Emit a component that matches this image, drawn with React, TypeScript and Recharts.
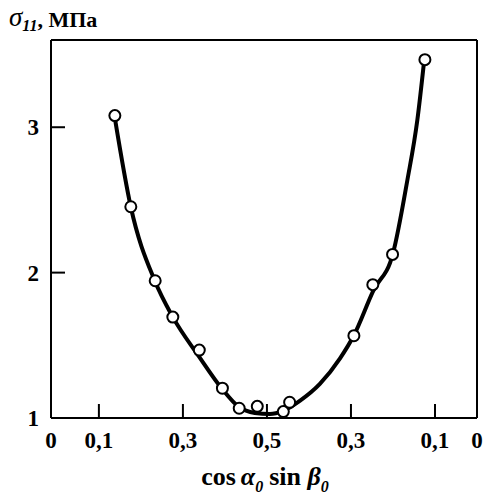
import { ComposedChart, Line, Scatter, XAxis, YAxis, ReferenceLine, Label } from "recharts";

// x is a folded scale: 0 -> 0,5 on the left half, 0,5 -> 0 on the right half
const xDomain: [number, number] = [-0.014, 1];
const xTicks = [-0.014, 0.1, 0.3, 0.5, 0.7, 0.9, 1];
const xTickLabels = ["0", "0,1", "0,3", "0,5", "0,3", "0,1", "0"];
const yDomain: [number, number] = [1, 3.6];
const yTicks = [1, 2, 3];

const measured = [
  { u: 0.138, s: 3.08 },
  { u: 0.176, s: 2.453 },
  { u: 0.234, s: 1.944 },
  { u: 0.276, s: 1.694 },
  { u: 0.339, s: 1.467 },
  { u: 0.394, s: 1.205 },
  { u: 0.434, s: 1.067 },
  { u: 0.477, s: 1.08 },
  { u: 0.539, s: 1.044 },
  { u: 0.554, s: 1.108 },
  { u: 0.707, s: 1.566 },
  { u: 0.752, s: 1.917 },
  { u: 0.799, s: 2.125 },
  { u: 0.876, s: 3.465 },
];

const fitted = [
  { u: 0.138, s: 3.063 },
  { u: 0.176, s: 2.451 },
  { u: 0.233, s: 1.944 },
  { u: 0.276, s: 1.694 },
  { u: 0.338, s: 1.424 },
  { u: 0.393, s: 1.201 },
  { u: 0.433, s: 1.076 },
  { u: 0.471, s: 1.035 },
  { u: 0.507, s: 1.028 },
  { u: 0.538, s: 1.049 },
  { u: 0.579, s: 1.12 },
  { u: 0.626, s: 1.235 },
  { u: 0.674, s: 1.41 },
  { u: 0.707, s: 1.569 },
  { u: 0.753, s: 1.875 },
  { u: 0.8, s: 2.132 },
  { u: 0.834, s: 2.632 },
  { u: 0.858, s: 3.049 },
  { u: 0.874, s: 3.451 },
];

const font = "'Liberation Serif', 'Times New Roman', serif";
const tickStyle = { fill: "#000", fontSize: 23, fontWeight: "bold", fontFamily: font };

const Ring = (p: any) => <circle cx={p.cx} cy={p.cy} r={5.5} fill="#fff" stroke="#000" strokeWidth={2} />;

const XTitle = () => (
  <text x={265} y={485} textAnchor="middle" fontFamily={font} fontWeight="bold" fontSize={26} fill="#000">
    cos
    <tspan dx={5} fontStyle="italic">α</tspan>
    <tspan dy={7} fontSize={16} fontStyle="italic">0</tspan>
    <tspan dy={-7} dx={6}>sin </tspan>
    <tspan fontStyle="italic">β</tspan>
    <tspan dy={7} fontSize={16} fontStyle="italic">0</tspan>
  </text>
);

const YTitle = () => (
  <text x={9} y={26} fontFamily={font} fontSize={27} fill="#000">
    <tspan fontStyle="italic">σ</tspan>
    <tspan dy={5} fontSize={16} fontStyle="italic" fontWeight="bold">11</tspan>
    <tspan dy={-4} fontWeight="bold" fontSize={22}>, МПа</tspan>
  </text>
);

export default function App() {
  return (
    <div style={{ position: "absolute", left: 0, top: 0, background: "#fff" }}>
      <ComposedChart width={489} height={499} margin={{ top: 40, right: 12, bottom: 21, left: 11 }}>
        <XAxis
          type="number"
          dataKey="u"
          domain={xDomain}
          ticks={xTicks}
          interval={0}
          tickFormatter={(_v: number, i: number) => xTickLabels[i]}
          tick={tickStyle}
          tickSize={-14}
          tickMargin={28}
          height={60}
          axisLine={{ stroke: "#000", strokeWidth: 2 }}
          tickLine={{ stroke: "#000", strokeWidth: 2 }}
        >
          <Label content={<XTitle />} />
        </XAxis>
        <YAxis
          type="number"
          dataKey="s"
          domain={yDomain}
          ticks={yTicks}
          interval={0}
          tick={tickStyle}
          tickSize={-14}
          tickMargin={26}
          width={40}
          axisLine={{ stroke: "#000", strokeWidth: 2 }}
          tickLine={{ stroke: "#000", strokeWidth: 2 }}
        >
          <Label content={<YTitle />} />
        </YAxis>
        <ReferenceLine y={yDomain[1]} stroke="#000" strokeWidth={2} />
        <ReferenceLine x={xDomain[1]} stroke="#000" strokeWidth={2} />
        <Line
          data={fitted}
          dataKey="s"
          type="monotone"
          stroke="#000"
          strokeWidth={4}
          dot={false}
          activeDot={false}
          isAnimationActive={false}
        />
        <Scatter data={measured} dataKey="s" shape={Ring} isAnimationActive={false} />
      </ComposedChart>
    </div>
  );
}
